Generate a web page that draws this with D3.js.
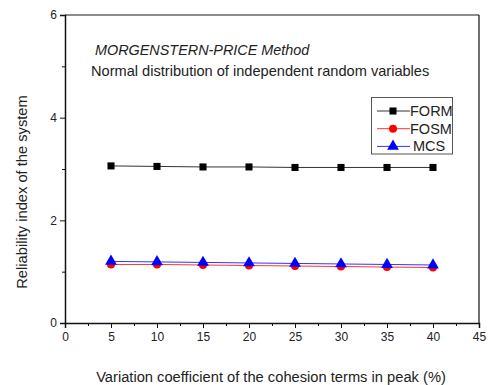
<!DOCTYPE html>
<html>
<head>
<meta charset="utf-8">
<script src="https://cdn.jsdelivr.net/npm/d3@7"></script>
<style>
  body { margin: 0; background: #fff; }
  text { font-family: "Liberation Sans", Arial, sans-serif; fill: #222; }
</style>
</head>
<body>
<div id="chart"></div>
<script>
// data
var xValues = [5, 10, 15, 20, 25, 30, 35, 40];
var formValues = [3.06, 3.05, 3.04, 3.04, 3.03, 3.03, 3.03, 3.03];
var fosmValues = [1.14, 1.14, 1.13, 1.12, 1.11, 1.10, 1.09, 1.08];
var mcsValues = [1.20, 1.19, 1.18, 1.17, 1.16, 1.15, 1.14, 1.13];
var xTicks = [0, 5, 10, 15, 20, 25, 30, 35, 40, 45];
var yTicks = [0, 2, 4, 6];
var seriesNames = ["FORM", "FOSM", "MCS"];

var width = 491, height = 385;
var mLeft = 65, mRight = 479, mTop = 15, mBottom = 323;

var svg = d3.select("#chart").append("svg")
    .attr("width", width)
    .attr("height", height);

var x = d3.scaleLinear().domain([0, 45]).range([mLeft, mRight]);
var y = d3.scaleLinear().domain([0, 6]).range([mBottom, mTop]);

// frame (top + right)
svg.append("line").attr("x1", mLeft).attr("x2", mRight).attr("y1", mTop).attr("y2", mTop)
    .attr("stroke", "#666").attr("stroke-width", 1.5);
svg.append("line").attr("x1", mRight).attr("x2", mRight).attr("y1", mTop).attr("y2", mBottom)
    .attr("stroke", "#111").attr("stroke-width", 1.2);

// x axis
svg.append("g").attr("transform", "translate(0," + mBottom + ")")
    .call(d3.axisBottom(x).tickValues(xTicks).tickSize(5).tickPadding(4).tickFormat(d3.format("d")));
svg.append("g").attr("transform", "translate(0," + mBottom + ")")
    .call(d3.axisBottom(x).tickValues(d3.range(2.5, 45, 5)).tickSize(3).tickFormat(""))
    .select(".domain").remove();

// y axis
svg.append("g").attr("transform", "translate(" + mLeft + ",0)")
    .call(d3.axisLeft(y).tickValues(yTicks).tickSize(5).tickPadding(3).tickFormat(d3.format("d")));
svg.append("g").attr("transform", "translate(" + mLeft + ",0)")
    .call(d3.axisLeft(y).tickValues([1, 3, 5]).tickSize(3).tickFormat(""))
    .select(".domain").remove();

svg.selectAll(".domain").attr("stroke", "#111").attr("stroke-width", 1.5);
svg.selectAll(".tick line").attr("stroke", "#111").attr("stroke-width", 1);
svg.selectAll(".tick text").style("font-size", "12px").attr("fill", "#222")
    .style("font-family", "'Liberation Sans', Arial, sans-serif");

// series
var series = [
  { name: seriesNames[0], values: formValues, color: "#000000", line: "#333", symbol: d3.symbolSquare, size: 50 },
  { name: seriesNames[1], values: fosmValues, color: "#ff0000", line: "#ff3333", symbol: d3.symbolCircle, size: 50 },
  { name: seriesNames[2], values: mcsValues, color: "#0000ff", line: "#3333ff", symbol: d3.symbolTriangle, size: 60 }
];

var line = d3.line()
    .x(function(d) { return x(d[0]); })
    .y(function(d) { return y(d[1]); });

series.forEach(function(s) {
  var pts = xValues.map(function(v, i) { return [v, s.values[i]]; });
  svg.append("path").datum(pts)
      .attr("d", line)
      .attr("fill", "none")
      .attr("stroke", s.line)
      .attr("stroke-width", 1);
  svg.selectAll(null).data(pts).enter().append("path")
      .attr("transform", function(d) { return "translate(" + x(d[0]) + "," + y(d[1]) + ")"; })
      .attr("d", d3.symbol().type(s.symbol).size(s.size))
      .attr("fill", s.color);
});

// annotation text
svg.append("text").attr("x", 95).attr("y", 55)
    .style("font-size", "14.4px").style("font-style", "italic")
    .text("MORGENSTERN-PRICE Method");
svg.append("text").attr("x", 91).attr("y", 76)
    .style("font-size", "14.6px")
    .text("Normal distribution of independent random variables");

// legend
var lg = svg.append("g");
lg.append("rect").attr("x", 371.5).attr("y", 97.5).attr("width", 81).attr("height", 56.5)
    .attr("fill", "#fff").attr("stroke", "#555").attr("stroke-width", 1);
series.forEach(function(s, i) {
  var ly = 111 + i * 17.7;
  lg.append("line").attr("x1", 377).attr("x2", 410).attr("y1", ly).attr("y2", ly)
      .attr("stroke", s.line).attr("stroke-width", 1);
  lg.append("path").attr("transform", "translate(393," + ly + ")")
      .attr("d", d3.symbol().type(s.symbol).size(s.size)).attr("fill", s.color);
  lg.append("text").attr("x", i == 2 ? 413 : 410).attr("y", ly + 5)
      .style("font-size", "14.5px").text(s.name);
});

// axis titles
svg.append("text").attr("x", 271).attr("y", 382).attr("text-anchor", "middle")
    .style("font-size", "14.7px")
    .text("Variation coefficient of the cohesion terms in peak (%)");
svg.append("text").attr("transform", "translate(27,192) rotate(-90)").attr("text-anchor", "middle")
    .style("font-size", "14.7px")
    .text("Reliability index of the system");
</script>
</body>
</html>
